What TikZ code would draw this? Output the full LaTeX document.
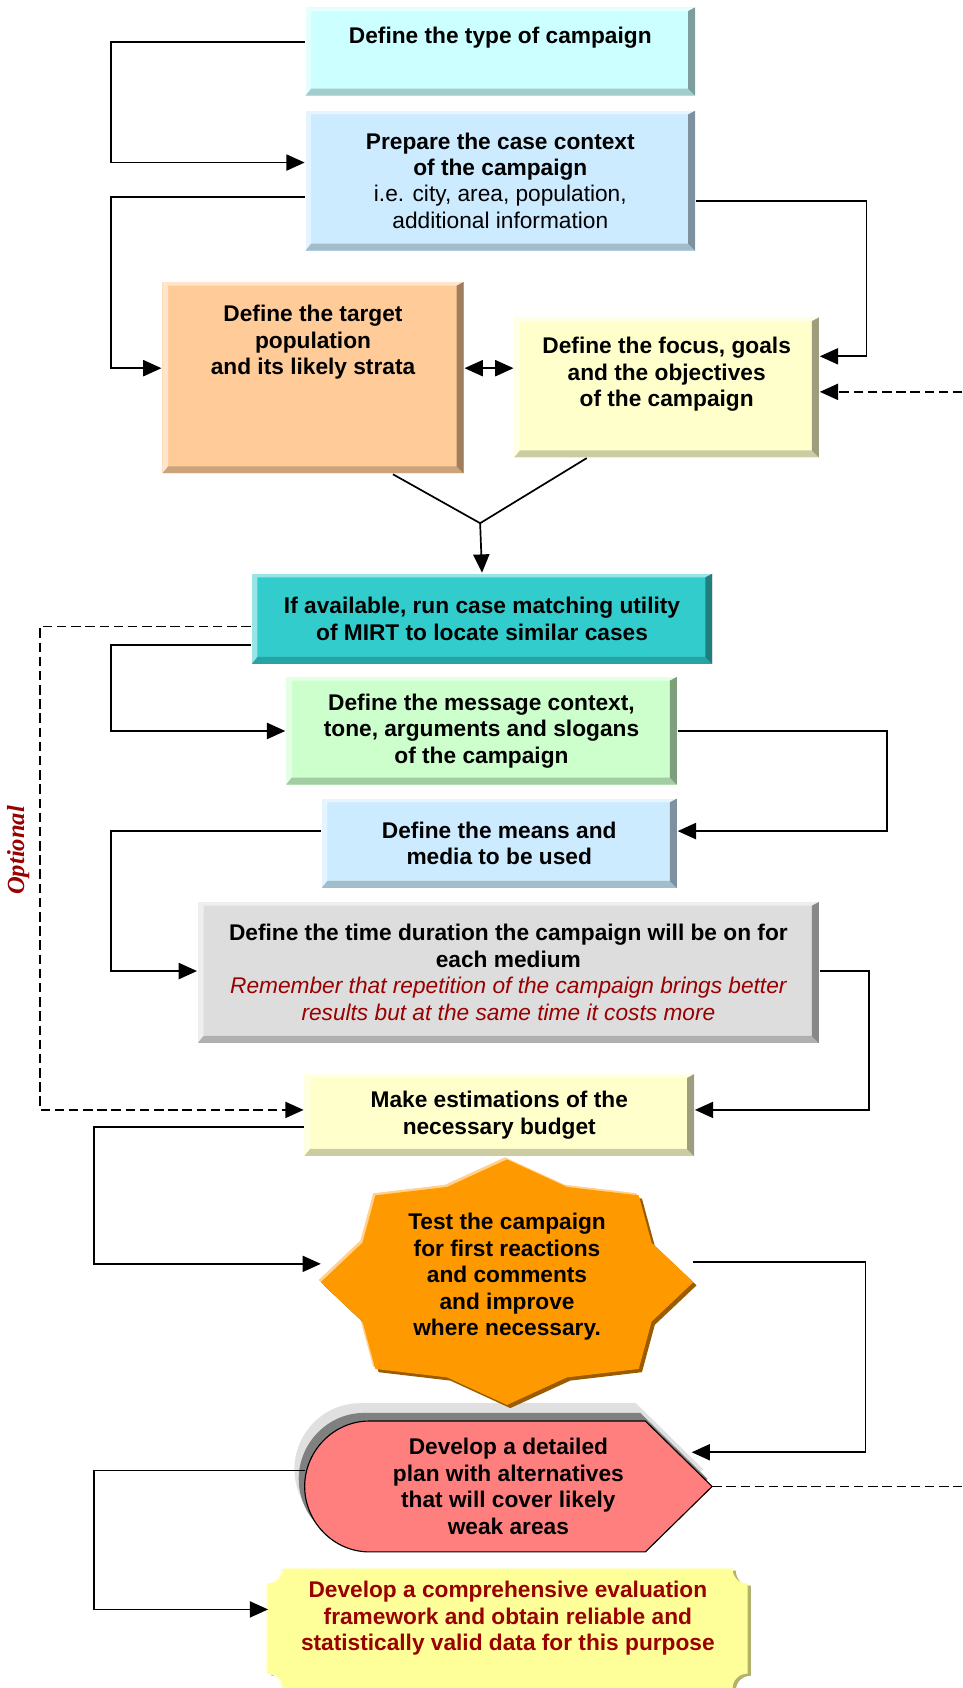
\documentclass[tikz,border=0pt]{standalone}
\usepackage{fontspec}
\setmainfont{Liberation Sans}
\newfontfamily\optfont{Liberation Serif}
\usetikzlibrary{arrows.meta,positioning,calc,backgrounds}

\definecolor{darkred}{HTML}{990000}
\definecolor{typecol}{HTML}{CCFFFF}
\definecolor{contextcol}{HTML}{CCEBFF}
\definecolor{targetcol}{HTML}{FFCC99}
\definecolor{focuscol}{HTML}{FFFFCC}
\definecolor{matchcol}{HTML}{33CCCC}
\definecolor{messagecol}{HTML}{CCFFCC}
\definecolor{timecol}{HTML}{DDDDDD}
\definecolor{testcol}{HTML}{FF9900}
\definecolor{plancol}{HTML}{FF7F7F}
\definecolor{evalcol}{HTML}{FFFF99}

\tikzset{
  bevel/.style={rectangle, anchor=north west, fill=#1, inner sep=0pt,
    path picture={
      \coordinate (pnw) at (path picture bounding box.north west);
      \coordinate (pne) at (path picture bounding box.north east);
      \coordinate (psw) at (path picture bounding box.south west);
      \coordinate (pse) at (path picture bounding box.south east);
      % light top and left edge
      \fill[white, opacity=.5] (pnw) -- (pne) -- ([shift={(-3.7pt,-2pt)}]pne)
        -- ([shift={(3pt,-2pt)}]pnw) -- ([shift={(3pt,3.7pt)}]psw) -- (psw) -- cycle;
      % dark right edge
      \fill[black, opacity=.38] (pne) -- (pse) -- ([shift={(-3.7pt,3.7pt)}]pse)
        -- ([shift={(-3.7pt,-2pt)}]pne) -- cycle;
      % dark bottom edge
      \fill[black, opacity=.2] (psw) -- (pse) -- ([shift={(-3.7pt,3.7pt)}]pse)
        -- ([shift={(3pt,3.7pt)}]psw) -- cycle;
    }},
  txt/.style={align=center, inner sep=0pt, font=\bfseries\fontsize{12}{14}\selectfont},
  box/.style={bevel=#1, txt}
}

\begin{document}
\begin{tikzpicture}[x=0.02cm, y=-0.02cm, line width=0.9pt,
    >={Triangle[length=3.4mm,width=3mm]}, dashed/.style={dash pattern=on 5pt off 2.5pt}]
  \useasboundingbox (0,0) rectangle (894,1568);

  % upper boxes
  \node[bevel=typecol, minimum width=7.24cm, minimum height=1.64cm] (type) at (283,6) {};
  \node[txt, below=0.37cm of type.north] (typetxt) {Define the type of campaign};
  \node[box=contextcol, minimum width=7.24cm, minimum height=2.6cm] (context) at (283,102)
    {Prepare the case context\\of the campaign\\\mdseries i.e. city, area, population,\\\mdseries additional information};
  \node[bevel=targetcol, minimum width=5.6cm, minimum height=3.56cm] (target) at (150,261) {};
  \node[txt, below=0.44cm of target.north] (targettxt) {Define the target\\population\\and its likely strata};
  \node[bevel=focuscol, minimum width=5.66cm, minimum height=2.6cm] (focus) at (477,294) {};
  \node[txt, below=0.37cm of focus.north] (focustxt) {Define the focus, goals\\and the objectives\\of the campaign};

  % middle boxes
  \node[box=matchcol, minimum width=8.56cm, minimum height=1.68cm] (match) at (233,532)
    {If available, run case matching utility\\of MIRT to locate similar cases};
  \node[box=messagecol, minimum width=7.26cm, minimum height=2cm] (message) at (265,628)
    {Define the message context,\\tone, arguments and slogans\\of the campaign};
  \node[box=contextcol, minimum width=6.6cm, minimum height=1.66cm] (media) at (298,741)
    {Define the means and\\media to be used};
  \node[box=timecol, minimum width=11.54cm, minimum height=2.62cm] (time) at (183,837)
    {Define the time duration the campaign will be on for\\each medium\\
     \textcolor{darkred}{\mdseries\itshape Remember that repetition of the campaign brings better}\\
     \textcolor{darkred}{\mdseries\itshape results but at the same time it costs more}};
  \node[box=focuscol, minimum width=7.24cm, minimum height=1.52cm] (budget) at (282,997)
    {Make estimations of the\\necessary budget};

  % star for the test step
  \coordinate (starc) at (471,1191);
  \foreach \i in {0,...,15}{
    \pgfmathsetmacro\r{isodd(\i) ? 0.84 : 1}
    \coordinate (s\i) at ($(starc)+({\r*173*cos(\i*22.5)},{-\r*114*sin(\i*22.5)})$);
  }
  \foreach \dx/\dy/\c in {-2/-2/testcol!45!white, 3/3/testcol!60!black, 0/0/testcol}
    \fill[\c] ($(s0)+(\dx,\dy)$) \foreach \i in {1,...,15}{ -- ($(s\i)+(\dx,\dy)$) } -- cycle;
  \node[txt] (test) at ($(starc)+(0,-5)$)
    {Test the campaign\\for first reactions\\and comments\\and improve\\where necessary.};

  % plan and evaluation
  \node[txt, anchor=north west, minimum width=7.54cm, minimum height=2.4cm] (plan) at (283,1320)
    {Develop a detailed\\plan with alternatives\\that will cover likely\\weak areas};
  \node[txt, text=darkred, anchor=north west, minimum width=8.88cm, minimum height=1.82cm] (eval) at (249,1457)
    {Develop a comprehensive evaluation\\framework and obtain reliable and\\statistically valid data for this purpose};
  \begin{scope}[on background layer]
    \foreach \dx/\dy/\c/\d in {-9/-16/black!12/black!12, -5/-7/black!50/black!50, 0/0/plancol/black}
      \filldraw[fill=\c, draw=\d, line width=.6pt]
        ($(plan.north west)+(60+\dx,\dy)$) -- ($(plan.north east)+(-62+\dx,\dy)$) -- ($(plan.east)+(\dx,\dy)$)
        -- ($(plan.south east)+(-62+\dx,\dy)$) -- ($(plan.south west)+(60+\dx,\dy)$)
        .. controls ($(plan.south west)+(27+\dx,\dy)$) and ($(plan.west)+(\dx,33+\dy)$) .. ($(plan.west)+(\dx,\dy)$)
        .. controls ($(plan.west)+(\dx,-33+\dy)$) and ($(plan.north west)+(27+\dx,\dy)$) .. cycle;
    \foreach \dx/\dy/\c in {3/2/evalcol!70!black, -2/0/evalcol!40!white, 0/0/evalcol}
      \fill[\c] ($(eval.north west)+(14+\dx,\dy)$) -- ($(eval.north east)+(-14+\dx,\dy)$)
        .. controls ($(eval.north east)+(-14+\dx,8+\dy)$) and ($(eval.north east)+(-8+\dx,14+\dy)$) .. ($(eval.north east)+(\dx,14+\dy)$)
        -- ($(eval.south east)+(\dx,5+\dy)$)
        .. controls ($(eval.south east)+(-8+\dx,5+\dy)$) and ($(eval.south east)+(-14+\dx,11+\dy)$) .. ($(eval.south east)+(-14+\dx,19+\dy)$)
        -- ($(eval.south west)+(14+\dx,19+\dy)$)
        .. controls ($(eval.south west)+(14+\dx,11+\dy)$) and ($(eval.south west)+(8+\dx,5+\dy)$) .. ($(eval.south west)+(\dx,5+\dy)$)
        -- ($(eval.north west)+(\dx,14+\dy)$)
        .. controls ($(eval.north west)+(8+\dx,14+\dy)$) and ($(eval.north west)+(14+\dx,8+\dy)$) .. cycle;
  \end{scope}

  % connectors
  \coordinate (rim) at (894,0);
  \coordinate (merge) at (446,486);
  \draw[->] (type.west |- 0,39) -| (103,151) -- (context.west |- 0,151);
  \draw[->] (context.west |- 0,183) -| (103,342) -- (target.west |- 0,342);
  \draw[->] (context.east |- 0,187) -| (805,331) -- (focus.east |- 0,331);
  \draw[->, dashed] (rim |- 0,364) -- (focus.east |- 0,364);
  \draw[<->] (target.east |- 0,342) -- (focus.west |- 0,342);
  \draw (target.south -| 365,0) -- (merge) -- (focus.south -| 545,0);
  \draw[->] (merge) -- (match.north);
  \draw[->] (match.west |- 0,599) -| (103,679) -- (message.west |- 0,679);
  \draw[->, dashed] (match.west |- 0,582) -| (37,1031) -- (budget.west |- 0,1031);
  \node[rotate=90, text=darkred, font=\optfont\bfseries\itshape\fontsize{13}{15}\selectfont] (optional) at (17,790) {Optional};
  \draw[->] (message.east |- 0,679) -| (824,772) -- (media.east |- 0,772);
  \draw[->] (media.west |- 0,772) -| (103,902) -- (time.west |- 0,902);
  \draw[->] (time.east |- 0,902) -| (807,1031) -- (budget.east |- 0,1031);
  \draw[->] (budget.west |- 0,1047) -| (87,1174) -- (s8 |- 0,1174);
  \draw[->] (s0 |- 0,1172) -| (804,1349) -- ($(plan.east |- 0,1349)+(-19,0)$);
  \draw[dashed] (plan.east) -- (plan.east -| rim);
  \draw[->] (plan.west |- 0,1366) -| (87,1495) -- (eval.west |- 0,1495);
\end{tikzpicture}
\end{document}
